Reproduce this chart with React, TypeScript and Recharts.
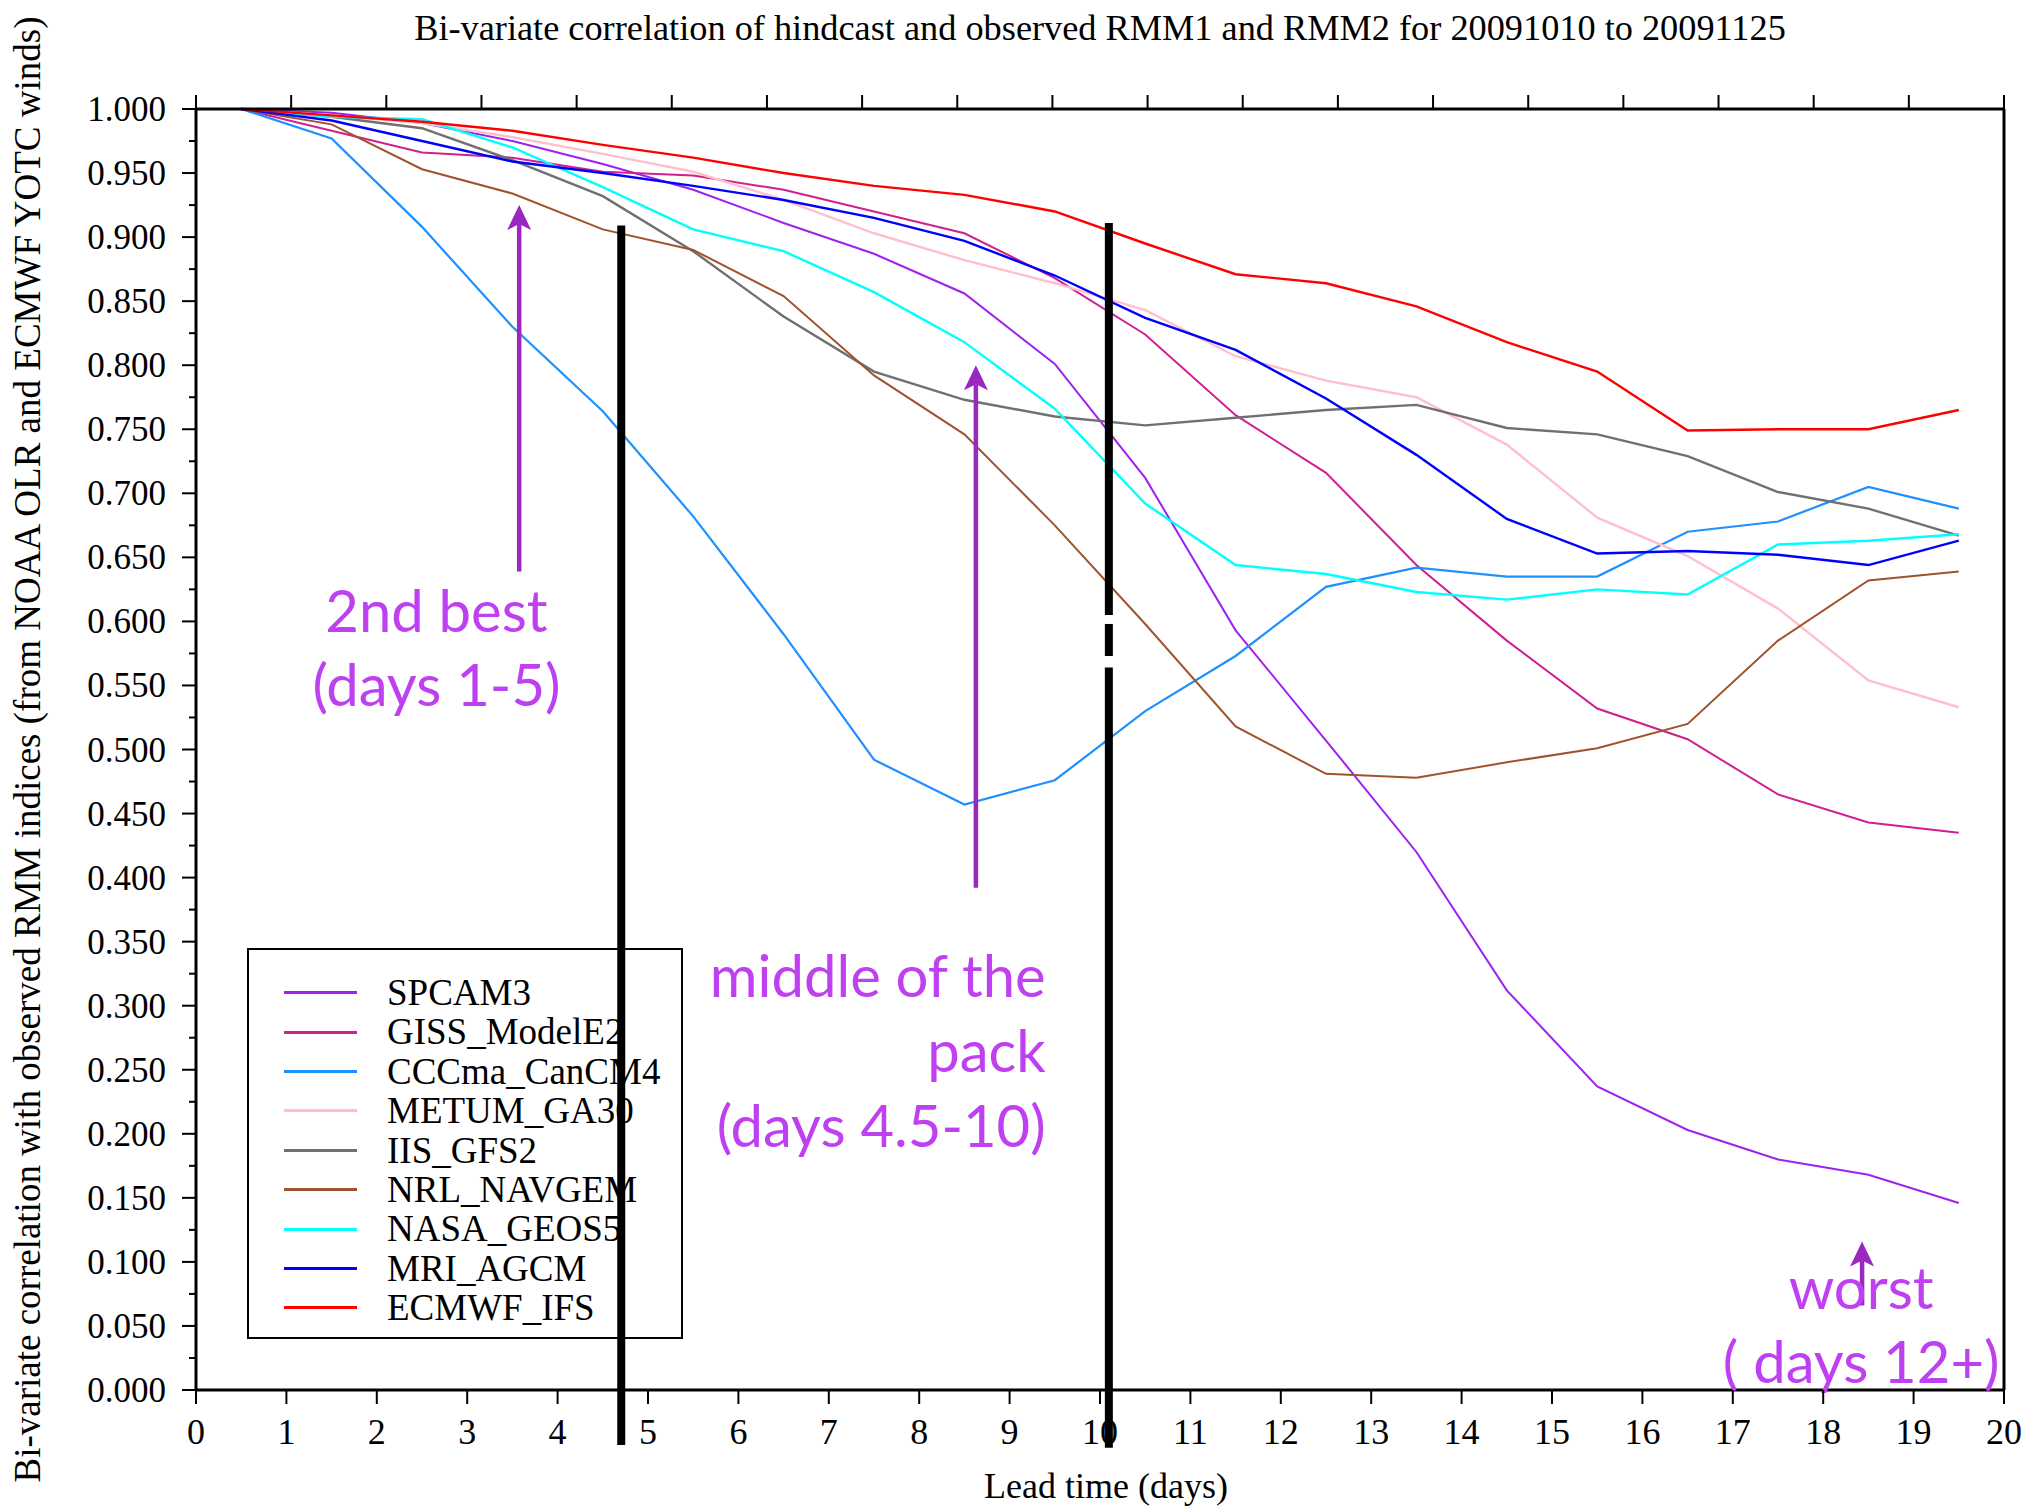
import React from 'react';
import { LineChart, Line, XAxis, YAxis, Legend, ReferenceLine, ReferenceDot } from 'recharts';

const SERIF = "'Liberation Serif', 'Times New Roman', serif";
const NOTE_FONT = "Lato, 'Open Sans', sans-serif";
const NOTE_COLOR = '#bf40f0';
const ARROW_COLOR = '#9a28c0';

// lead times (days) where each model is verified
const LEAD_DAYS = [0.5, 1.5, 2.5, 3.5, 4.5, 5.5, 6.5, 7.5, 8.5, 9.5, 10.5, 11.5, 12.5, 13.5, 14.5, 15.5, 16.5, 17.5, 18.5, 19.5];

const SPCAM3 = [1.0, 0.997, 0.989, 0.975, 0.957, 0.937, 0.911, 0.887, 0.856, 0.801, 0.712, 0.593, 0.507, 0.42, 0.312, 0.237, 0.203, 0.18, 0.168, 0.146];
const GISS_ModelE2 = [1.0, 0.983, 0.966, 0.962, 0.951, 0.948, 0.937, 0.92, 0.903, 0.868, 0.824, 0.761, 0.716, 0.644, 0.585, 0.532, 0.508, 0.465, 0.443, 0.435];
const CCCma_CanCM4 = [1.0, 0.977, 0.908, 0.83, 0.764, 0.682, 0.59, 0.492, 0.457, 0.476, 0.53, 0.573, 0.627, 0.642, 0.635, 0.635, 0.67, 0.678, 0.705, 0.688];
const METUM_GA30 = [1.0, 0.995, 0.989, 0.978, 0.965, 0.951, 0.929, 0.903, 0.882, 0.864, 0.843, 0.807, 0.788, 0.775, 0.738, 0.681, 0.651, 0.61, 0.554, 0.533];
const IIS_GFS2 = [1.0, 0.994, 0.985, 0.96, 0.932, 0.889, 0.838, 0.795, 0.773, 0.76, 0.753, 0.759, 0.765, 0.769, 0.751, 0.746, 0.729, 0.701, 0.688, 0.667];
const NRL_NAVGEM = [1.0, 0.988, 0.953, 0.934, 0.906, 0.89, 0.854, 0.792, 0.746, 0.675, 0.598, 0.518, 0.481, 0.478, 0.49, 0.501, 0.52, 0.585, 0.632, 0.639];
const NASA_GEOS5 = [1.0, 0.994, 0.992, 0.97, 0.939, 0.906, 0.889, 0.857, 0.818, 0.766, 0.692, 0.644, 0.637, 0.623, 0.617, 0.625, 0.621, 0.66, 0.663, 0.668];
const MRI_AGCM = [1.0, 0.991, 0.975, 0.959, 0.95, 0.94, 0.929, 0.915, 0.897, 0.87, 0.837, 0.812, 0.774, 0.73, 0.68, 0.653, 0.655, 0.652, 0.644, 0.663];
const ECMWF_IFS = [1.0, 0.995, 0.99, 0.983, 0.972, 0.962, 0.95, 0.94, 0.933, 0.92, 0.895, 0.871, 0.864, 0.846, 0.818, 0.795, 0.749, 0.75, 0.75, 0.765];

const SERIES = [
  { name: 'SPCAM3', color: '#a020f0', width: 2, values: SPCAM3 },
  { name: 'GISS_ModelE2', color: '#d02090', width: 2, values: GISS_ModelE2 },
  { name: 'CCCma_CanCM4', color: '#1e90ff', width: 2.2, values: CCCma_CanCM4 },
  { name: 'METUM_GA30', color: '#ffc0cb', width: 2.4, values: METUM_GA30 },
  { name: 'IIS_GFS2', color: '#707070', width: 2.4, values: IIS_GFS2 },
  { name: 'NRL_NAVGEM', color: '#a0522d', width: 2, values: NRL_NAVGEM },
  { name: 'NASA_GEOS5', color: '#00ffff', width: 2.4, values: NASA_GEOS5 },
  { name: 'MRI_AGCM', color: '#0000ff', width: 2.4, values: MRI_AGCM },
  { name: 'ECMWF_IFS', color: '#ff0000', width: 2.4, values: ECMWF_IFS },
];

const X_TICKS = [0, 1, 2, 3, 4, 5, 6, 7, 8, 9, 10, 11, 12, 13, 14, 15, 16, 17, 18, 19, 20];
// every 0.025, labelled every 0.05
const Y_TICKS = Array.from({ length: 41 }, (_, i) => (i * 25) / 1000);

const TITLE = 'Bi-variate correlation of hindcast and observed RMM1 and RMM2 for 20091010 to 20091125';
const X_LABEL = 'Lead time (days)';
const Y_LABEL = 'Bi-variate correlation with observed RMM indices (from NOAA OLR and ECMWF YOTC winds)';

// thick black dividers (day, from, to) – the second one has two small gaps
const DIVIDERS = [
  { day: 4.704, from: 0.909, to: -0.043 },
  { day: 10.098, from: 0.911, to: 0.605 },
  { day: 10.098, from: 0.598, to: 0.573 },
  { day: 10.098, from: 0.564, to: -0.045 },
];

const ARROWS = [
  { day: 3.575, from: 0.639, to: 0.925 },
  { day: 8.627, from: 0.392, to: 0.8 },
  { day: 18.43, from: 0.066, to: 0.116 },
];

const NOTES = [
  { day: 2.66, value: 0.592, text: '2nd best', anchor: 'middle' },
  { day: 2.66, value: 0.534, text: '(days 1-5)', anchor: 'middle' },
  { day: 9.4, value: 0.307, text: 'middle of the', anchor: 'end' },
  { day: 9.4, value: 0.2485, text: 'pack', anchor: 'end' },
  { day: 9.4, value: 0.19, text: '(days 4.5-10)', anchor: 'end' },
  { day: 18.42, value: 0.0632, text: 'worst', anchor: 'middle' },
  { day: 18.42, value: 0.0055, text: '( days 12+)', anchor: 'middle' },
];

const rows = LEAD_DAYS.map((day, i) => {
  const row: Record<string, number> = { day };
  SERIES.forEach((s) => { row[s.name] = s.values[i]; });
  return row;
});

const isMajor = (v: number) => Math.round(v * 1000) % 50 === 0;

function LeftTick({ x, y, payload }: any) {
  const major = isMajor(payload.value);
  return (
    <g>
      <line x1={x - (major ? 14 : 7)} x2={x} y1={y} y2={y} stroke="#000" strokeWidth={2} />
      {major && (
        <text x={x - 30} y={y + 12} textAnchor="end" fontFamily={SERIF} fontSize={35} fill="#000">
          {payload.value.toFixed(3)}
        </text>
      )}
    </g>
  );
}

function RightTick({ x, y, payload }: any) {
  const major = isMajor(payload.value);
  return <line x1={x} x2={x + (major ? 14 : 8)} y1={y} y2={y} stroke="#000" strokeWidth={2} />;
}

function BottomTick({ x, y, payload }: any) {
  return (
    <g>
      <line x1={x} x2={x} y1={y} y2={y + 14} stroke="#000" strokeWidth={2} />
      <text x={x} y={y + 54} textAnchor="middle" fontFamily={SERIF} fontSize={36} fill="#000">
        {payload.value}
      </text>
    </g>
  );
}

function TopTick({ x, y }: any) {
  return <line x1={x} x2={x} y1={y} y2={y - 14} stroke="#000" strokeWidth={2} />;
}

function TitleLabel({ viewBox }: any) {
  return (
    <text x={viewBox.x + viewBox.width / 2} y={40} textAnchor="middle" fontFamily={SERIF} fontSize={36.3} fill="#000">
      {TITLE}
    </text>
  );
}

function XLabel({ viewBox }: any) {
  return (
    <text x={viewBox.x + viewBox.width / 2 + 6} y={viewBox.y + 108} textAnchor="middle" fontFamily={SERIF} fontSize={36} fill="#000">
      {X_LABEL}
    </text>
  );
}

function YLabel({ viewBox }: any) {
  const cx = viewBox.x + 39.5;
  const cy = viewBox.y + viewBox.height / 2;
  return (
    <text x={cx} y={cy} transform={`rotate(-90, ${cx}, ${cy})`} textAnchor="middle" fontFamily={SERIF} fontSize={37} fill="#000">
      {Y_LABEL}
    </text>
  );
}

function Arrow({ x1, y1, x2, y2 }: any) {
  const base = y2 + 25;
  return (
    <g>
      <line x1={x1} y1={y1} x2={x2} y2={base - 6} stroke={ARROW_COLOR} strokeWidth={4.5} />
      <polygon
        points={`${x2},${y2} ${x2 - 12},${base} ${x2},${base - 6} ${x2 + 12},${base}`}
        fill={ARROW_COLOR}
      />
    </g>
  );
}

function LegendBox() {
  return (
    <div
      style={{
        width: 436, height: 391, boxSizing: 'border-box', border: '2px solid #000',
        paddingTop: 23, fontFamily: SERIF, fontSize: 37, color: '#000'
      }}
    >
      {SERIES.map((s) => (
        <div key={s.name} style={{ display: 'flex', alignItems: 'center', height: 39.4, lineHeight: '39.4px' }}>
          <span style={{ display: 'inline-block', width: 73, height: 3, marginLeft: 35, background: s.color }} />
          <span style={{ marginLeft: 30, whiteSpace: 'nowrap' }}>{s.name}</span>
        </div>
      ))}
    </div>
  );
}

export default function App() {
  return (
    <div style={{ position: 'absolute', left: 0, top: 0, width: 2035, height: 1506 }}>
      <LineChart width={2035} height={1506} data={rows} margin={{ top: 0, right: 0, bottom: 0, left: 0 }}>
        <XAxis
          dataKey="day" type="number" domain={[0, 20]} ticks={X_TICKS} interval={0}
          height={116} tickSize={0} tickMargin={0} tick={BottomTick}
          axisLine={{ stroke: '#000', strokeWidth: 3 }} label={XLabel}
        />
        <XAxis
          xAxisId="top" orientation="top" type="number" domain={[0, 20]} ticks={X_TICKS} interval={0}
          height={109} tickSize={0} tickMargin={0} tick={TopTick}
          axisLine={{ stroke: '#000', strokeWidth: 3 }} label={TitleLabel}
        />
        <YAxis
          type="number" domain={[0, 1]} ticks={Y_TICKS} interval={0} width={196}
          tickSize={0} tickMargin={0} tick={LeftTick}
          axisLine={{ stroke: '#000', strokeWidth: 3 }} label={YLabel}
        />
        <YAxis
          yAxisId="right" orientation="right" type="number" domain={[0, 1]} ticks={Y_TICKS} interval={0} width={31}
          tickSize={0} tickMargin={0} tick={RightTick}
          axisLine={{ stroke: '#000', strokeWidth: 3 }}
        />
        <Legend
          layout="vertical" verticalAlign="middle" align="center"
          wrapperStyle={{ left: 247, top: 948, width: 436, height: 391, zIndex: -1 }}
          content={LegendBox}
        />
        {SERIES.map((s) => (
          <Line
            key={s.name} type="linear" dataKey={s.name} name={s.name}
            stroke={s.color} strokeWidth={s.width} dot={false} activeDot={false}
            isAnimationActive={false}
          />
        ))}
        {DIVIDERS.map((d, i) => (
          <ReferenceLine
            key={`div-${i}`} ifOverflow="visible" stroke="#000" strokeWidth={8}
            segment={[{ x: d.day, y: d.from }, { x: d.day, y: d.to }]}
          />
        ))}
        {NOTES.map((n, i) => (
          <ReferenceDot
            key={`note-${i}`} x={n.day} y={n.value} r={1} ifOverflow="visible"
            shape={(p: any) => (
              <text x={p.cx} y={p.cy} textAnchor={n.anchor} fontFamily={NOTE_FONT} fontSize={58} fill={NOTE_COLOR}>
                {n.text}
              </text>
            )}
          />
        ))}
        {ARROWS.map((a, i) => (
          <ReferenceLine
            key={`arrow-${i}`} ifOverflow="visible"
            segment={[{ x: a.day, y: a.from }, { x: a.day, y: a.to }]}
            shape={Arrow}
          />
        ))}
      </LineChart>
    </div>
  );
}
